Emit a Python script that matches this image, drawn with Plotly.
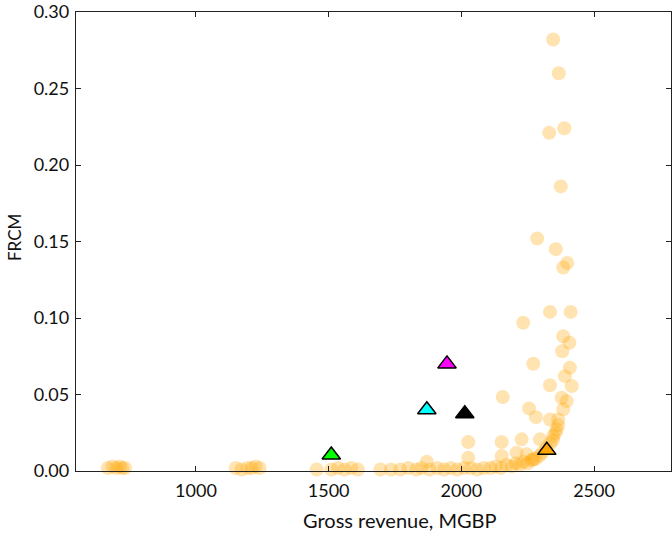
import plotly.graph_objects as go

# Orange background scenario cloud (gross revenue MGBP, FRCM)
cloud_x = [668, 685, 700, 712, 722, 733,
           1150, 1172, 1195, 1210, 1225, 1240,
           1455, 1510, 1535, 1560, 1585, 1610,
           1695, 1735, 1770, 1800, 1830, 1850, 1870, 1880, 1910, 1935, 1960, 1985, 2010,
           2035, 2060, 2085, 2110, 2130, 2150, 2170, 2190, 2205, 2220, 2235, 2250, 2265,
           2280, 2295, 2305, 2320, 2335, 2345, 2355, 2365,
           2026, 2152, 2208, 2246, 2271, 2026, 2152, 2227, 2296, 2346, 2359, 2334, 2365,
           2384, 2281, 2255, 2156, 2378, 2397, 2334, 2416, 2390, 2409, 2271, 2380, 2407, 2384,
           2233, 2334, 2412, 2384, 2399, 2356, 2286, 2375, 2331, 2388, 2367, 2346]
cloud_y = [0.002, 0.003, 0.002, 0.003, 0.002, 0.002,
           0.002, 0.001, 0.002, 0.002, 0.003, 0.002,
           0.001, 0.001, 0.002, 0.001, 0.002, 0.001,
           0.001, 0.001, 0.001, 0.002, 0.001, 0.002, 0.006, 0.001, 0.002, 0.001, 0.002, 0.001, 0.002,
           0.002, 0.001, 0.002, 0.002, 0.003, 0.002, 0.004, 0.003, 0.005, 0.004, 0.006, 0.005, 0.007,
           0.008, 0.010, 0.012, 0.015, 0.018, 0.020, 0.025, 0.030,
           0.0087, 0.0098, 0.0120, 0.0109, 0.0076, 0.0189, 0.0189, 0.0207, 0.0207, 0.0228, 0.0272, 0.0337, 0.0337,
           0.0403, 0.0352, 0.0409, 0.0483, 0.0479, 0.0457, 0.0560, 0.0555, 0.0620, 0.0675, 0.0701, 0.0783, 0.0838, 0.0881,
           0.0969, 0.104, 0.104, 0.133, 0.136, 0.145, 0.152, 0.186, 0.221, 0.224, 0.260, 0.282]

# Highlighted scenarios (triangles)
tri_x = [1510, 1870, 1946, 2013, 2322]
tri_y = [0.0105, 0.0400, 0.0700, 0.0375, 0.0135]
tri_colors = ["#00ff00", "#00ffff", "#ff00ff", "#000000", "#ffa500"]

x_ticks = [1000, 1500, 2000, 2500]
y_ticks = [0.00, 0.05, 0.10, 0.15, 0.20, 0.25, 0.30]

x_title = "Gross revenue, MGBP"
y_title = "FRCM"

fig = go.Figure()
fig.add_trace(go.Scatter(
    x=cloud_x, y=cloud_y, mode="markers",
    marker=dict(size=14, color="rgba(255,165,0,0.3)", line=dict(width=0)),
    showlegend=False, hoverinfo="x+y", cliponaxis=False))
fig.add_trace(go.Scatter(
    x=tri_x, y=tri_y, mode="markers",
    marker=dict(symbol="triangle-up", size=16, color=tri_colors,
                line=dict(color="#000000", width=1.5)),
    showlegend=False))

axis_common = dict(
    showline=True, linecolor="#222222", linewidth=1.3, mirror="ticks",
    ticks="inside", ticklen=5, tickwidth=1, tickcolor="#222222",
    showgrid=False, zeroline=False, automargin=False,
    tickfont=dict(family="Lato", size=18, color="#111111"),
)

fig.update_layout(
    width=672, height=533,
    margin=dict(l=76, r=1, t=12, b=62),
    plot_bgcolor="white", paper_bgcolor="white",
    font=dict(family="Lato", size=18, color="#111111"),
    xaxis=dict(range=[548, 2790], tickvals=x_ticks, ticklabelstandoff=3, **axis_common),
    yaxis=dict(range=[0, 0.30], tickvals=y_ticks, tickformat=".2f", ticklabelstandoff=2,
               **axis_common),
)

# axis titles placed as in the reference
fig.add_annotation(text=x_title, xref="paper", yref="paper",
                   x=(400 - 76) / 595, y=-(520 - 471) / 459,
                   xanchor="center", yanchor="middle", showarrow=False,
                   font=dict(family="Lato", size=20, color="#111111"))
fig.add_annotation(text=y_title, xref="paper", yref="paper",
                   x=-(76 - 15) / 595, y=(471 - 238) / 459, textangle=-90,
                   xanchor="center", yanchor="middle", showarrow=False,
                   font=dict(family="Lato", size=17, color="#111111"))

fig.write_html("out.html", config={"displayModeBar": False},
               post_script="document.body.style.margin='0';document.body.style.overflow='hidden';")
